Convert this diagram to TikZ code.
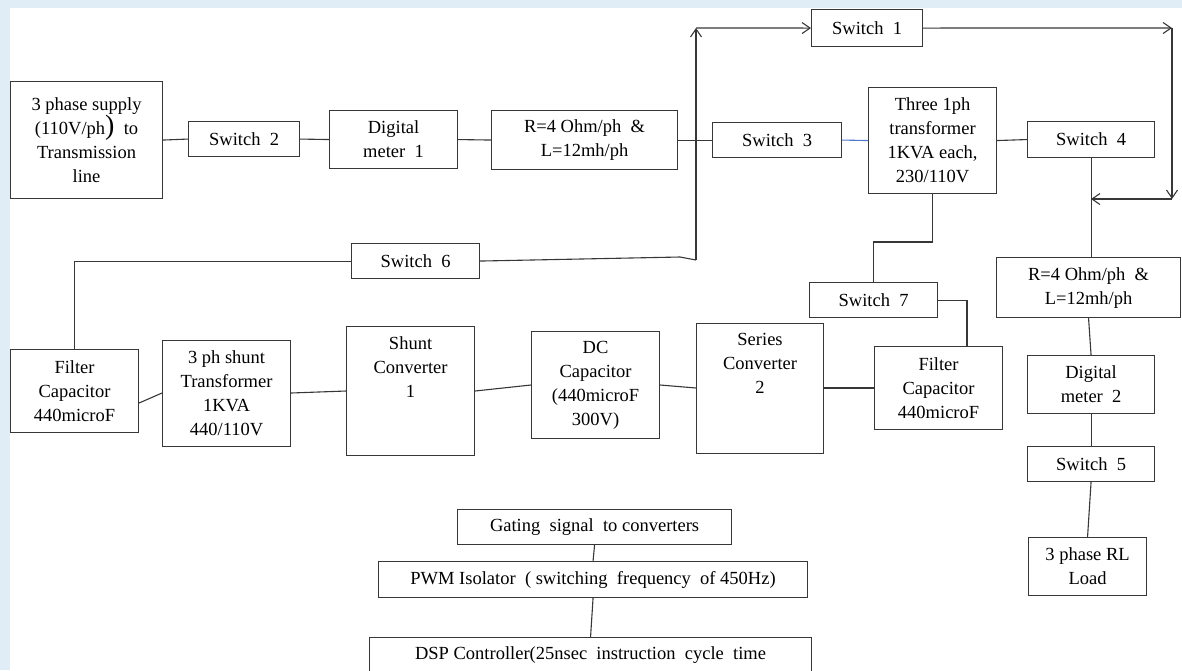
\documentclass[tikz,border=0pt]{standalone}
\usepackage{fontspec}
\setmainfont{Liberation Serif}
\usetikzlibrary{arrows.meta}
\definecolor{ln}{RGB}{55,55,55}
\definecolor{bgblue}{RGB}{224,236,246}
\definecolor{bl}{RGB}{80,120,200}
\begin{document}
\begin{tikzpicture}[x=1pt,y=-1pt,
 box/.style={draw=ln, line width=1.1pt, inner sep=0pt, align=center, anchor=north west, font=\fontsize{18.5}{24}\selectfont},
 txt/.style={inner sep=0pt, align=center, font=\fontsize{18.5}{24}\selectfont},
 wire/.style={draw=ln, line width=1.1pt},
 arr/.style={wire, -{Straight Barb[length=8pt,width=11pt]}}]
\useasboundingbox (0,0) rectangle (1182,670);
\fill[bgblue] (0,0) rectangle (10,670);
\fill[bgblue] (0,0) rectangle (1182,8);
% top row
\node[box, minimum width=152pt, minimum height=117pt] (sup) at (10,81) {3 phase supply\\(110V/ph\smash{\fontsize{28}{24}\selectfont )}~ to\\Transmission\\line};
\node[box, minimum width=111pt, minimum height=35pt] (sw2) at (188,121) {Switch~ 2};
\node[box, minimum width=128pt, minimum height=58pt] (dm1) at (329,110) {Digital\\meter~ 1};
\node[box, minimum width=186pt, minimum height=59pt] (r1) at (491,110) {R=4 Ohm/ph~ \&\\L=12mh/ph};
\node[box, minimum width=129pt, minimum height=35pt] (sw3) at (712,122) {Switch~ 3};
\node[box, minimum width=128pt, minimum height=106pt] (tr) at (868,87) {Three 1ph\\transformer\\1KVA each,\\230/110V};
\node[box, minimum width=127pt, minimum height=36pt] (sw4) at (1027,121) {Switch~ 4};
\node[box, minimum width=111pt, minimum height=37pt] (sw1) at (811,9) {Switch~ 1};
\node[box, minimum width=128pt, minimum height=35pt] (sw6) at (351,243) {Switch~ 6};
% middle row
\node[box, minimum width=128pt, minimum height=83pt] (fc1) at (10,349) {Filter\\Capacitor\\440microF};
\node[box, minimum width=128pt, minimum height=106pt] (st) at (162,340) {3 ph shunt\\Transformer\\1KVA\\440/110V};
\node[box, minimum width=128pt, minimum height=129pt] (sc1) at (346,326) {};
\node[txt, anchor=north] at ([yshift=-10pt]sc1.north) {Shunt\\Converter\\1};
\node[box, minimum width=128pt, minimum height=107pt] (dc) at (531,331) {DC\\Capacitor\\(440microF\\300V)};
\node[box, minimum width=127pt, minimum height=130pt] (ser) at (696,323) {};
\node[txt, anchor=north] at ([yshift=-10pt]ser.north) {Series\\Converter\\2};
\node[box, minimum width=128pt, minimum height=35pt] (sw7) at (809,282) {Switch~ 7};
\node[box, minimum width=128pt, minimum height=83pt] (fc2) at (874,346) {Filter\\Capacitor\\440microF};
% right column
\node[box, minimum width=184pt, minimum height=60pt] (r2) at (996,257) {R=4 Ohm/ph~ \&\\L=12mh/ph};
\node[box, minimum width=127pt, minimum height=58pt] (dm2) at (1027,355) {Digital\\meter~ 2};
\node[box, minimum width=127pt, minimum height=35pt] (sw5) at (1027,446) {Switch~ 5};
\node[box, minimum width=118pt, minimum height=58pt] (load) at (1028,537) {3 phase RL\\Load};
% control
\node[box, minimum width=274pt, minimum height=35pt] (gate) at (457,509) {Gating~ signal~ to converters};
\node[box, minimum width=429pt, minimum height=36pt] (pwm) at (378,561) {PWM Isolator~ ( switching~ frequency~ of 450Hz)};
\node[box, minimum width=442pt, minimum height=36pt] (dsp) at (369,637) {DSP Controller(25nsec~ instruction~ cycle~ time};
% coordinates
\coordinate (k) at (680,257);
\coordinate (j0) at (696,260);
\coordinate (j1) at (696,28);
\coordinate (j2) at (1172,28);
\coordinate (j3) at (1172,199);
\coordinate (j4) at (1091,199);
% wires top
\draw[wire] (sup.east) -- (sw2.west);
\draw[wire] (sw2.east) -- (dm1.west);
\draw[wire] (dm1.east) -- (r1.west);
\draw[wire] (r1.east) -- (sw3.west);
\draw[wire, draw=bl] (sw3.east) -- (tr.west);
\draw[wire] (tr.east) -- (sw4.west);
\draw[wire] (sw4.south) -- (r2.north -| sw4.south);
\draw[wire] (r2.south) -- (dm2.north);
\draw[wire] (dm2.south) -- (sw5.north);
\draw[wire] (sw5.south) -- (load.north);
% loop with arrows
\draw[wire] (sw6.east) -- (k) -- (j0);
\draw[arr] (j0) -- (j1);
\draw[arr] (j1) -- (sw1.west);
\draw[arr] (sw1.east) -- (j2);
\draw[arr] (j2) -- (j3);
\draw[arr] (j3) -- (j4);
\draw[wire] (sw6.west) -| (fc1.north);
% transformer to switch 7 and filter 2
\draw[wire] (tr.south) -- (tr.south |- 0,242) -| (sw7.north);
\draw[wire] (sw7.east) -| (fc2.north -| 967,0);
% middle chain
\draw[wire] (fc1.east |- 0,403) -- (st.west |- 0,393);
\draw[wire] (st.east |- 0,393) -- (sc1.west |- 0,391);
\draw[wire] (sc1.east |- 0,391) -- (dc.west |- 0,385);
\draw[wire] (dc.east |- 0,385) -- (ser.west |- 0,388);
\draw[wire] (ser.east |- 0,388) -- (fc2.west |- 0,388);
% control chain
\draw[wire] (gate.south) -- (pwm.north);
\draw[wire] (pwm.south) -- (dsp.north);
\end{tikzpicture}
\end{document}
